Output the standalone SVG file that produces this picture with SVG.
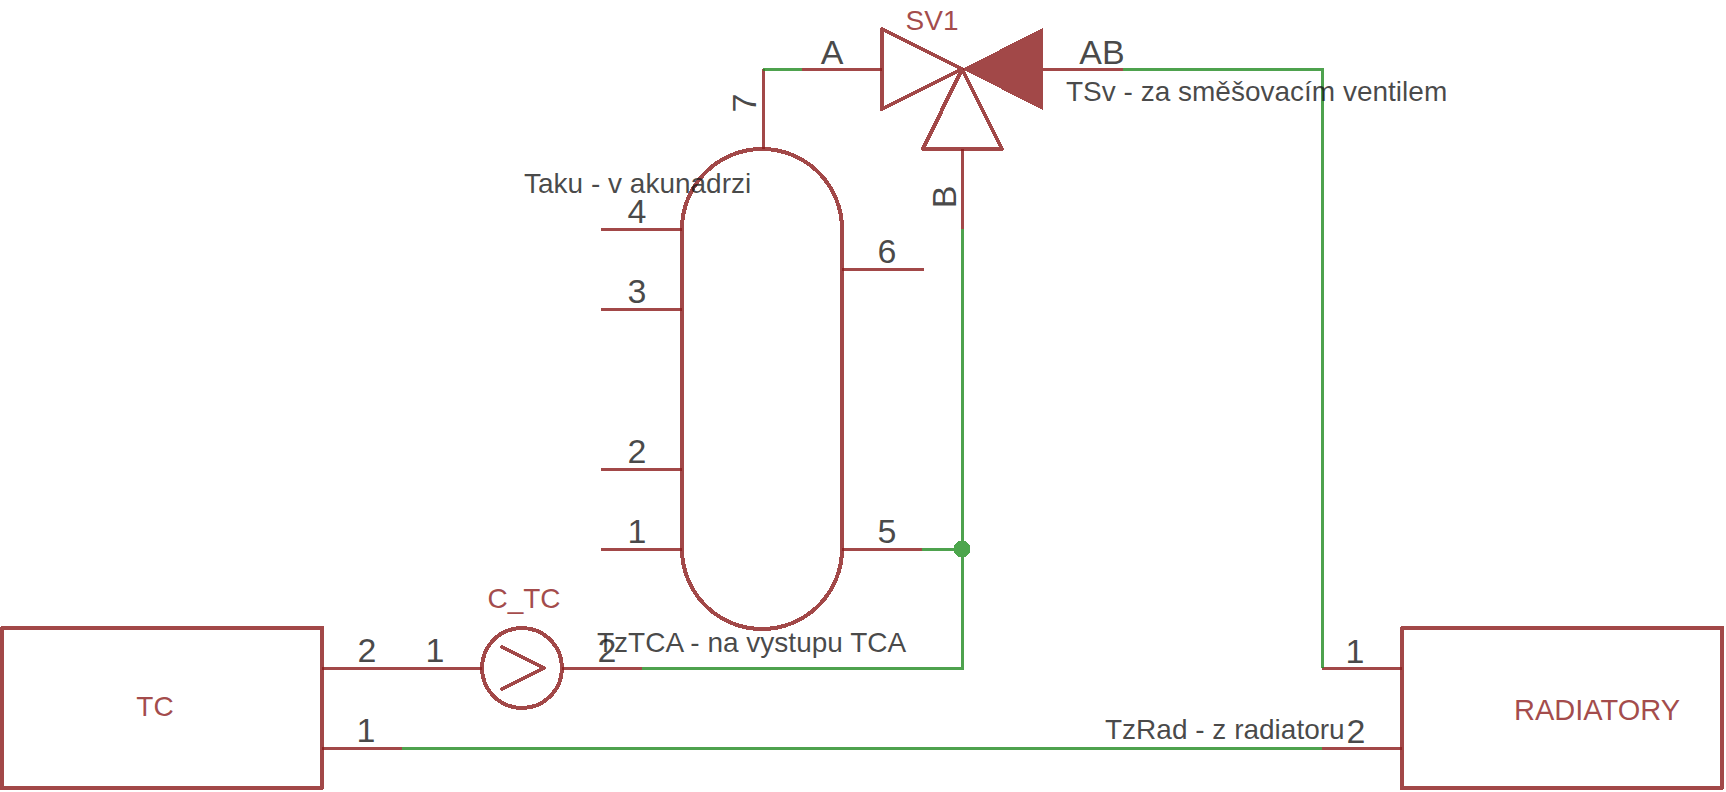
<svg xmlns="http://www.w3.org/2000/svg" width="1726" height="792" viewBox="0 0 1726 792">
<style>
text{font-family:"Liberation Sans",Arial,sans-serif}
path,rect,circle{shape-rendering:crispEdges}
.r{fill:none;stroke:#8b1a1a;stroke-opacity:.8;stroke-width:3;stroke-linejoin:round;stroke-linecap:butt}
.s{fill:none;stroke:#8b1a1a;stroke-opacity:.8;stroke-width:4;stroke-linejoin:round;stroke-linecap:round}
.w{fill:none;stroke:#228b22;stroke-opacity:.8;stroke-width:3;stroke-linejoin:miter}
.n{font-size:34px;fill:#181818;fill-opacity:.8;text-anchor:middle}
.a{font-size:28px;fill:#181818;fill-opacity:.8}
.l{font-size:28px;fill:#8b1a1a;fill-opacity:.8}
</style>
<rect width="1726" height="792" fill="#fff"/>
<g id="TC">
<rect class="s" x="2" y="628" width="320" height="160"/>
<path class="r" d="M322 668H402M322 748H402"/>
<text class="l" x="155" y="716" text-anchor="middle">TC</text>
<text class="n" x="367" y="662">2</text>
<text class="n" x="366" y="742">1</text>
</g>
<g id="RADIATORY">
<rect class="s" x="1402" y="628" width="320" height="160"/>
<path class="r" d="M1322 668H1402M1322 748H1402"/>
<text class="l" x="1597" y="720" text-anchor="middle" style="font-size:29px">RADIATORY</text>
<text class="n" x="1355" y="663">1</text>
<text class="n" x="1356" y="743">2</text>
</g>
<g id="C_TC">
<circle class="s" cx="522" cy="668" r="40"/>
<path class="r" d="M402 668H482M562 668H642"/>
<path class="s" d="M502 647L544 668L502 689"/>
<text class="l" x="524" y="608" text-anchor="middle">C_TC</text>
<text class="n" x="435" y="662">1</text>
<text class="n" x="607" y="662">2</text>
</g>
<g id="SV1">
<path class="s" d="M882 29V109L962 69ZM923 149H1002L962 69Z"/>
<path d="M1043 28V110L962 69Z" fill="#8b1a1a" fill-opacity=".8"/>
<path class="r" d="M802 69H882M1043 69H1123M962 149V229"/>
<text class="l" x="932" y="30" text-anchor="middle">SV1</text>
<text class="n" x="832" y="64">A</text>
<text class="n" x="1102" y="64">AB</text>
<text class="n" transform="translate(956 197) rotate(-90)">B</text>
</g>
<g id="Tank">
<path class="s" d="M682 229A80 80 0 0 1 842 229V549A80 80 0 0 1 682 549Z"/>
<path class="r" d="M601 229H682M601 309H682M601 469H682M601 549H682M842 269H924M842 549H922M763 69V149"/>
<text class="n" x="637" y="223">4</text>
<text class="n" x="637" y="303">3</text>
<text class="n" x="637" y="463">2</text>
<text class="n" x="637" y="543">1</text>
<text class="n" x="887" y="263">6</text>
<text class="n" x="887" y="543">5</text>
<text class="n" transform="translate(756 103) rotate(-90)">7</text>
</g>
<g id="connectors">
<path class="w" d="M763 69H802"/>
<path class="w" d="M1123 69H1322V668"/>
<path class="w" d="M962 229V668H642"/>
<path class="w" d="M922 549H962"/>
<path class="w" d="M402 748H1322"/>
<circle cx="962" cy="549" r="8.5" fill="#4ca64c"/>
</g>
<g id="annotations">
<text class="a" x="524" y="193">Taku - v akunadrzi</text>
<text class="a" x="1066" y="101">TSv - za směšovacím ventilem</text>
<text class="a" x="597" y="652">TzTCA - na vystupu TCA</text>
<text class="a" x="1105" y="739">TzRad - z radiatoru</text>
</g>
</svg>
